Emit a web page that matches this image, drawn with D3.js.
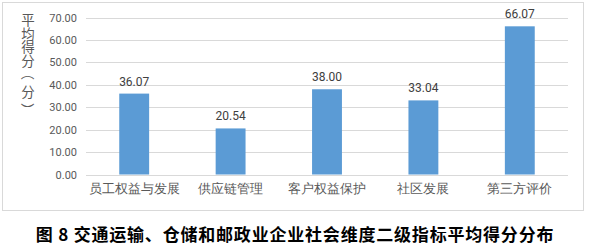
<!DOCTYPE html>
<html lang="zh">
  <head>
    <meta charset="UTF-8" />
    <title>交通运输、仓储和邮政业企业社会维度二级指标平均得分分布</title>
    <script src="https://d3js.org/d3.v7.min.js"></script>
    <style>
      body {
        margin: 0;
        background: #fff;
        font-family: 'Noto Sans CJK SC', 'Noto Sans', sans-serif;
      }
      .tick text {
        fill: #595959;
      }
    </style>
  </head>
  <body>
    <svg width="589" height="251"></svg>

    <script>
      const categories = ['员工权益与发展', '供应链管理', '客户权益保护', '社区发展', '第三方评价'];
      const scores = [36.07, 20.54, 38.0, 33.04, 66.07];
      const yTicks = [0, 10, 20, 30, 40, 50, 60, 70];
      const yTitle = ['平', '均', '得', '分', '（', '分', '）'];

      const svg = d3.select('svg');

      // chart frame
      svg
        .append('rect')
        .attr('x', 2.5)
        .attr('y', 2.5)
        .attr('width', 581)
        .attr('height', 208)
        .attr('fill', '#fff')
        .attr('stroke', '#d9d9d9');

      const x = d3.scaleBand().domain(categories).range([86, 568]).paddingInner(0.69).paddingOuter(0.345);

      const y = d3.scaleLinear().domain([0, 70]).range([174.5, 17.5]);

      // gridlines
      svg
        .append('g')
        .selectAll('line')
        .data(yTicks)
        .enter()
        .append('line')
        .attr('x1', 86)
        .attr('x2', 568)
        .attr('y1', (d) => Math.round(y(d)) + 0.5)
        .attr('y2', (d) => Math.round(y(d)) + 0.5)
        .attr('stroke', '#d9d9d9');

      // y axis labels
      const yAxis = svg
        .append('g')
        .attr('transform', 'translate(86,0)')
        .call(
          d3
            .axisLeft(y)
            .tickValues(yTicks)
            .tickFormat(d3.format('.2f'))
            .tickSize(0)
            .tickPadding(9)
        );
      yAxis.select('.domain').remove();
      yAxis.selectAll('text').attr('font-size', 11).attr('font-family', 'Roboto, "Noto Sans", sans-serif');

      // x axis labels
      const xAxis = svg
        .append('g')
        .attr('transform', 'translate(0,174.5)')
        .call(d3.axisBottom(x).tickSize(0).tickPadding(9));
      xAxis.select('.domain').remove();
      xAxis.selectAll('text').attr('font-size', 13);

      // bars
      svg
        .selectAll('rect.bar')
        .data(scores)
        .enter()
        .append('rect')
        .attr('class', 'bar')
        .attr('x', (d, i) => x(categories[i]))
        .attr('y', (d) => y(d))
        .attr('width', x.bandwidth())
        .attr('height', (d) => y(0) - y(d))
        .attr('fill', '#5b9bd5');

      // value labels
      svg
        .selectAll('text.value')
        .data(scores)
        .enter()
        .append('text')
        .attr('class', 'value')
        .attr('x', (d, i) => x(categories[i]) + x.bandwidth() / 2)
        .attr('y', (d) => y(d) - 8)
        .attr('text-anchor', 'middle')
        .attr('font-size', 12)
        .attr('font-family', 'Roboto, "Noto Sans", sans-serif')
        .attr('fill', '#404040')
        .text((d) => d.toFixed(2));

      // y axis title, stacked vertically; brackets turned sideways
      const baselines = [25, 38.6, 52.2, 65.8, 66.5, 96.5, 103];
      const titleText = svg
        .append('text')
        .attr('font-size', 13.5)
        .attr('fill', '#595959');
      titleText
        .selectAll('tspan')
        .data(yTitle)
        .enter()
        .append('tspan')
        .attr('x', (d) => (d === '（' || d === '）' ? 23 : 28))
        .attr('y', (d, i) => baselines[i])
        .attr('text-anchor', (d) => (d === '（' || d === '）' ? 'start' : 'middle'))
        .attr('rotate', (d) => (d === '（' || d === '）' ? 90 : 0))
        .text((d) => d);

      // caption
      svg
        .append('text')
        .attr('x', 295)
        .attr('y', 241)
        .attr('text-anchor', 'middle')
        .attr('font-size', 17)
        .attr('letter-spacing', 0.8)
        .attr('font-weight', 'bold')
        .attr('fill', '#000')
        .text('图 8  交通运输、仓储和邮政业企业社会维度二级指标平均得分分布');
    </script>
  </body>
</html>
